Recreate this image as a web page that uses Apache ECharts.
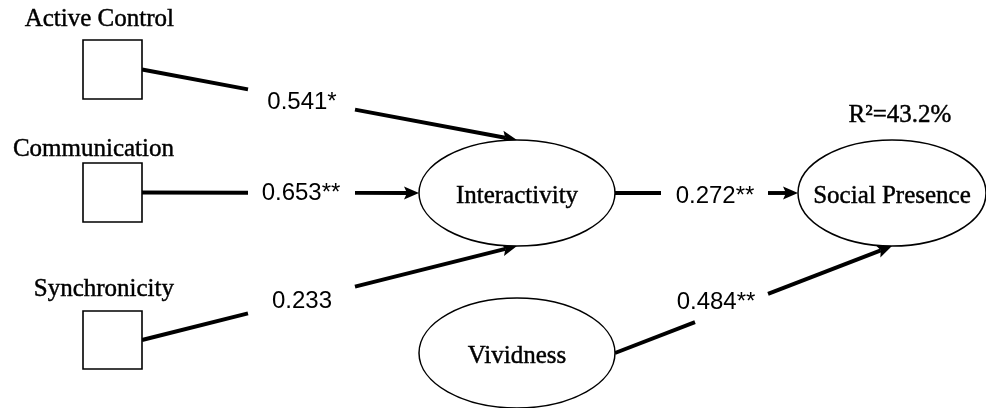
<!DOCTYPE html>
<html>
<head>
<meta charset="utf-8">
<script src="https://cdn.jsdelivr.net/npm/echarts@6/dist/echarts.min.js"></script>
<style>
    html, body { margin: 0; padding: 0; background: #fff; }
    #chart { width: 986px; height: 408px; }
</style>
</head>
<body>
<div id="chart"></div>
<script>
// 模型数据
const constructs = ['Active Control', 'Communication', 'Synchronicity', 'Interactivity', 'Vividness', 'Social Presence'];
const pathFrom = ['Active Control', 'Communication', 'Synchronicity', 'Interactivity', 'Vividness'];
const pathTo = ['Interactivity', 'Interactivity', 'Interactivity', 'Social Presence', 'Social Presence'];
const coefficients = [0.541, 0.653, 0.233, 0.272, 0.484];
const significance = ['*', '**', '', '**', '**'];
const rSquared = 43.2;   // Social Presence

// 布局 (px)
const nodeShape = ['box', 'box', 'box', 'ellipse', 'ellipse', 'ellipse'];
const nodeX = [112.5, 112.5, 112.5, 517, 517, 892];
const nodeY = [69.5, 192.5, 340, 193, 353, 193];
const nodeW = [59, 59, 59, 196, 196, 188];
const nodeH = [59, 59, 58, 106, 110, 106];
const boxLabelY = [19, 149, 289];
const fromPort = ['right', 'right', 'right', 'right', 'right'];
const toPort = ['top', 'left', 'bottom', 'left', 'bottom'];
const gapX = [[248, 355], [248, 355], [248, 355], [661, 768], [695, 768]];
const coefPos = [[302, 102], [301, 193], [302, 301], [715, 196], [716, 302]];

const SERIF = "'Liberation Serif', 'Times New Roman', serif";
const SANS = "'Liberation Sans', Arial, sans-serif";
const serifText = { font: '25px ' + SERIF, fill: '#000', textStroke: '#000', lineWidth: 0.45 };

function port(name, side) {
    const i = constructs.indexOf(name);
    const x = nodeX[i], y = nodeY[i], hw = nodeW[i] / 2, hh = nodeH[i] / 2;
    if (side === 'right') return [x + hw, y];
    if (side === 'left') return [x - hw, y];
    if (side === 'top') return [x, y - hh];
    return [x, y + hh];
}

const chart = echarts.init(document.getElementById('chart'));

function label(text, x, y, align) {
    return {
        type: 'text', x: x, y: y,
        style: {
            text: text, font: serifText.font, fill: '#000',
            stroke: '#000', lineWidth: 0.45,
            align: align, verticalAlign: 'middle'
        }
    };
}

// 节点
function renderNode(params, api) {
    const i = api.value(2);
    const c = api.coord([api.value(0), api.value(1)]);
    const w = nodeW[i], h = nodeH[i];
    const children = [];
    if (nodeShape[i] === 'box') {
        children.push({
            type: 'rect',
            shape: { x: c[0] - w / 2, y: c[1] - h / 2, width: w, height: h },
            style: { fill: '#fff', stroke: '#000', lineWidth: 1.6 }
        });
        const lp = api.coord([0, boxLabelY[i]]);
        children.push(label(constructs[i], c[0] + w / 2 + 32, lp[1], 'right'));
    } else {
        children.push({
            type: 'ellipse',
            shape: { cx: c[0], cy: c[1], rx: w / 2, ry: h / 2 },
            style: { fill: '#fff', stroke: '#000', lineWidth: 1.5 }
        });
        children.push(label(constructs[i], c[0], c[1] + 3, 'center'));
        if (constructs[i] === 'Social Presence') {
            children.push(label('R\u00b2=' + rSquared.toFixed(1) + '%', c[0] + 8, c[1] - h / 2 - 25, 'center'));
        }
    }
    return { type: 'group', children: children };
}

// 路径 + 箭头
function renderPath(params, api) {
    const k = api.value(2);
    const s = api.coord(port(pathFrom[k], fromPort[k]));
    const t = api.coord(port(pathTo[k], toPort[k]));
    const dx = t[0] - s[0], dy = t[1] - s[1];
    const len = Math.sqrt(dx * dx + dy * dy);
    const ux = dx / len, uy = dy / len, nx = -uy, ny = ux;
    const yAt = x => s[1] + (x - s[0]) / dx * dy;
    const g0 = api.coord([gapX[k][0], 0])[0];
    const g1 = api.coord([gapX[k][1], 0])[0];
    const L = 15, W = 13;
    const neck = [t[0] - ux * L * 0.8, t[1] - uy * L * 0.8];
    const lineStyle = { stroke: '#000', lineWidth: 3.9 };
    const c = api.coord([api.value(0), api.value(1)]);
    return {
        type: 'group',
        children: [
            { type: 'line', shape: { x1: s[0], y1: s[1], x2: g0, y2: yAt(g0) }, style: lineStyle },
            { type: 'line', shape: { x1: g1, y1: yAt(g1), x2: neck[0], y2: neck[1] }, style: lineStyle },
            {
                type: 'polygon',
                shape: { points: [
                    [t[0], t[1]],
                    [t[0] - ux * L + nx * W / 2, t[1] - uy * L + ny * W / 2],
                    neck,
                    [t[0] - ux * L - nx * W / 2, t[1] - uy * L - ny * W / 2]
                ] },
                style: { fill: '#000' }
            },
            {
                type: 'text',
                x: c[0],
                y: c[1],
                style: {
                    text: coefficients[k].toFixed(3) + significance[k],
                    font: '24px ' + SANS, fill: '#000', align: 'center', verticalAlign: 'middle'
                }
            }
        ]
    };
}

const option = {
    animation: false,
    backgroundColor: '#fff',
    grid: { left: 0, right: 0, top: 0, bottom: 0 },
    xAxis: { type: 'value', min: 0, max: 986, show: false },
    yAxis: { type: 'value', min: 0, max: 408, inverse: true, show: false },
    series: [
        {
            type: 'custom',
            name: 'paths',
            renderItem: renderPath,
            data: pathFrom.map((f, k) => [coefPos[k][0], coefPos[k][1], k]),
            z: 1
        },
        {
            type: 'custom',
            name: 'constructs',
            renderItem: renderNode,
            data: constructs.map((n, i) => [nodeX[i], nodeY[i], i]),
            z: 2
        }
    ]
};

chart.setOption(option);
</script>
</body>
</html>
